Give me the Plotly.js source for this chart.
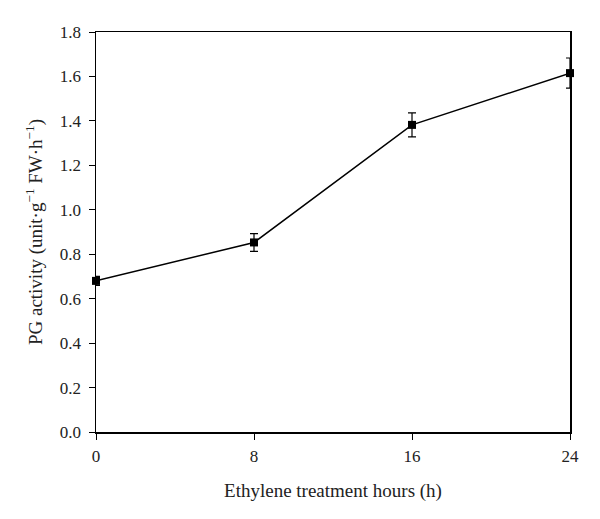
<!DOCTYPE html>
<html>
<head>
<meta charset="utf-8">
<script src="https://cdn.plot.ly/plotly-3.0.1.min.js"></script>
<style>
  html, body { margin: 0; padding: 0; background: #fff; }
  #graph { width: 600px; height: 519px; }
</style>
</head>
<body>
<div id="graph"></div>
<script>
// PG activity after ethylene treatment
var hours = [0, 8, 16, 24];
var activity = [0.68, 0.853, 1.382, 1.615];
var errs = [0.02, 0.04, 0.054, 0.068];

var trace = {
	x: hours,
	y: activity,
	type: 'scatter',
	mode: 'lines+markers',
	line: {color: '#000', width: 1.5},
	marker: {symbol: 'square', size: 8, color: '#000'},
	error_y: {type: 'data', array: errs, visible: true, color: '#000', thickness: 1.2, width: 4},
	cliponaxis: false,
	showlegend: false
};

var family = '"Liberation Serif", "DejaVu Serif", serif';
var tickFont = {family: family, size: 17, color: '#222'};
var titleFont = {family: family, size: 19, color: '#222'};

var layout = {
	width: 600,
	height: 519,
	margin: {l: 96, r: 30, t: 32, b: 87},
	paper_bgcolor: '#fff',
	plot_bgcolor: '#fff',
	font: tickFont,
	xaxis: {
		range: [0, 24],
		tickvals: [0, 8, 16, 24],
		ticks: 'outside',
		ticklen: 6,
		tickcolor: '#000',
		tickfont: tickFont,
		ticklabelstandoff: 2,
		showline: true,
		linecolor: '#000',
		linewidth: 1.5,
		mirror: true,
		showgrid: false,
		zeroline: false,
		title: {text: 'Ethylene treatment hours (h)', font: titleFont, standoff: 19}
	},
	yaxis: {
		range: [0, 1.8],
		dtick: 0.2,
		tickformat: '.1f',
		ticks: 'outside',
		ticklen: 6,
		tickcolor: '#000',
		tickfont: tickFont,
		ticklabelstandoff: 4,
		showline: true,
		linecolor: '#000',
		linewidth: 1.5,
		mirror: true,
		showgrid: false,
		zeroline: false,
		title: {text: 'PG activity (unit·g<sup>−1</sup> FW·h<sup>−1</sup>)', font: titleFont, standoff: 12}
	}
};

Plotly.newPlot('graph', [trace], layout, {staticPlot: true});
</script>
</body>
</html>
